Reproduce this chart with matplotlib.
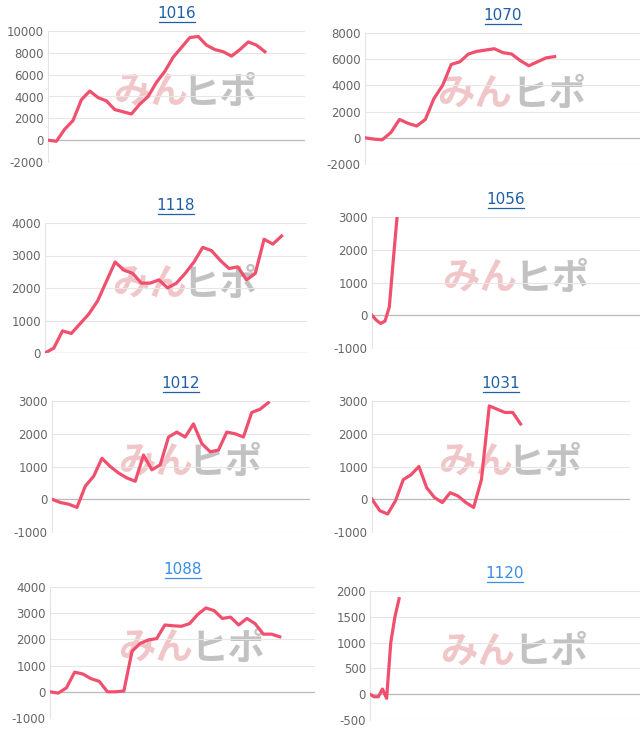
import matplotlib
matplotlib.use("Agg")
import matplotlib.pyplot as plt

titles = ["1016", "1070", "1118", "1056", "1012", "1031", "1088", "1120"]
s1016 = [0, -100, 1000, 1800, 3700, 4500, 3900, 3600, 2800, 2600, 2400, 3300, 4000, 5300, 6300, 7600, 8500, 9400, 9500, 8700, 8300, 8100, 7700, 8300, 9000, 8700, 8100]
s1070 = [0, -100, -150, 400, 1400, 1100, 900, 1400, 3000, 4000, 5600, 5800, 6400, 6600, 6700, 6800, 6500, 6400, 5900, 5500, 5800, 6100, 6200]
s1118 = [0, 150, 680, 600, 900, 1200, 1600, 2200, 2800, 2550, 2450, 2150, 2150, 2250, 2000, 2150, 2450, 2800, 3250, 3150, 2850, 2600, 2650, 2250, 2450, 3500, 3350, 3600]
s1056 = [0, -150, -250, -180, 250, 1800, 3300]
s1012 = [0, -100, -150, -250, 400, 700, 1250, 1000, 800, 650, 550, 1350, 900, 1050, 1900, 2050, 1900, 2300, 1700, 1450, 1500, 2050, 2000, 1900, 2650, 2750, 2950]
s1031 = [0, -350, -450, -50, 600, 750, 1000, 350, 50, -100, 200, 100, -100, -250, 600, 2850, 2750, 2650, 2650, 2300]
s1088 = [0, -50, 150, 750, 680, 500, 400, 0, 0, 30, 1550, 1850, 1980, 2030, 2550, 2520, 2500, 2600, 2950, 3200, 3100, 2800, 2850, 2550, 2800, 2600, 2200, 2200, 2100]
s1120 = [0, -50, -50, 100, -80, 1000, 1500, 1850]
series = [s1016, s1070, s1118, s1056, s1012, s1031, s1088, s1120]
yticks = [[-2000, 0, 2000, 4000, 6000, 8000, 10000],
          [-2000, 0, 2000, 4000, 6000, 8000],
          [0, 1000, 2000, 3000, 4000],
          [-1000, 0, 1000, 2000, 3000],
          [-1000, 0, 1000, 2000, 3000],
          [-1000, 0, 1000, 2000, 3000],
          [-1000, 0, 1000, 2000, 3000, 4000],
          [-500, 0, 500, 1000, 1500, 2000]]
xmax = [30.8, 31.9, 29.9, 62, 31, 33, 32.3, 65]
title_colors = ["#1f5fa8"] * 6 + ["#3a8ee6", "#3a8ee6"]

W, H = 640, 739
fig = plt.figure(figsize=(6.4, 7.39), dpi=100)
boxes = [(48, 31, 305, 162), (365, 33, 640, 164),
         (45, 223, 307, 353), (372, 217, 640, 348),
         (52, 401, 310, 532), (372, 401, 630, 532),
         (50, 587, 315, 718), (370, 591, 640, 720)]
for i, ax_box in enumerate(boxes):
    x0, y0, x1, y1 = ax_box
    ax = fig.add_axes([x0 / W, 1 - y1 / H, (x1 - x0) / W, (y1 - y0) / H])
    yt = yticks[i]
    ax.set_ylim(yt[0], yt[-1])
    ax.set_xlim(0, xmax[i])
    ax.set_yticks(yt)
    ax.set_yticklabels([str(v) for v in yt])
    ax.set_xticks([])
    ax.grid(axis="y", color="#e6e6e6", lw=0.8)
    ax.axhline(0, color="#bbbbbb", lw=0.9, zorder=1)
    for s in ["top", "right", "bottom"]:
        ax.spines[s].set_visible(False)
    ax.spines["left"].set_color("#e3e3e3")
    ax.tick_params(axis="y", length=0, labelsize=8.5, labelcolor="#666666", pad=3)
    ax.set_axisbelow(True)
    ax.text(0.40, 0.53, "みん", transform=ax.transAxes, fontsize=27, color="#e8a0a6",
            alpha=0.6, fontweight="bold", style="italic", family=["Noto Sans CJK JP"],
            ha="center", va="center", zorder=0)
    ax.text(0.67, 0.53, "ヒポ", transform=ax.transAxes, fontsize=27, color="#9a9a9a",
            alpha=0.6, fontweight="bold", style="italic", family=["Noto Sans CJK JP"],
            ha="center", va="center", zorder=0)
    ax.plot(range(len(series[i])), series[i], color="#f0506e", lw=2.3, zorder=3,
            solid_joinstyle="round")
    cx = (x0 + x1) / 2
    ty = y0 - 18
    fig.text(cx / W, 1 - ty / H, titles[i], fontsize=11, color=title_colors[i],
             ha="center", va="center")
    uy = ty + 9
    fig.add_artist(plt.Line2D([(cx - 18) / W, (cx + 18) / W], [1 - uy / H, 1 - uy / H],
                              color=title_colors[i], lw=0.9))

fig.savefig("out.png", dpi=100)
